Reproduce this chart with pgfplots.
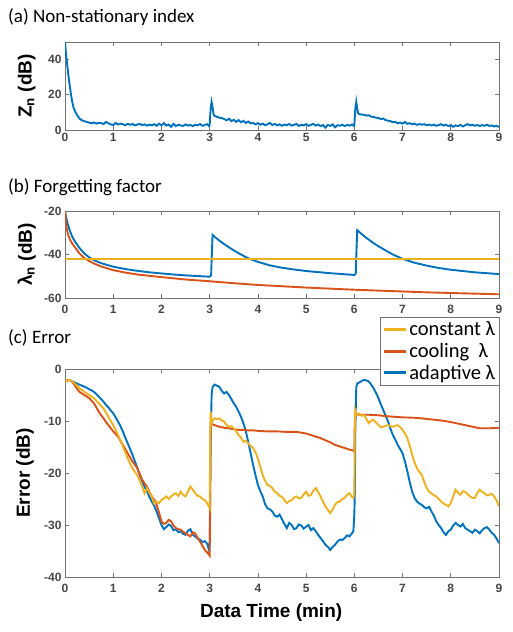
\documentclass[border=0pt]{standalone}
\usepackage{pgfplots}
\pgfplotsset{compat=1.18}
\usepackage{fontspec}
\setmainfont{Liberation Sans}
\newfontfamily\calibri{Carlito}
\definecolor{mblue}{RGB}{0,114,189}
\definecolor{morange}{RGB}{217,83,25}
\definecolor{myellow}{RGB}{237,177,32}
\pgfplotsset{
  panel/.style={
    scale only axis, anchor=south west, width=434pt,
    xmin=0, xmax=9, xtick={0,1,2,3,4,5,6,7,8,9},
    axis line style={black!55, line width=0.7pt},
    tick style={black!55, line width=0.7pt},
    major tick length=4pt, tick align=inside,
    tick label style={font=\bfseries\fontsize{12}{14}\selectfont, text=black!72},
    /pgf/number format/assume math mode=true,
    label style={font=\bfseries\fontsize{19}{22}\selectfont, text=black},
    every axis plot/.append style={line width=1.9pt, no marks},
    ylabel style={at={(axis description cs:-0.088,0.5)}, anchor=center},
  }
}
\begin{document}
\begin{tikzpicture}
\useasboundingbox (0pt,0pt) rectangle (512pt,632pt);
% ---------------- (a)
\begin{axis}[panel, at={(65pt,502pt)}, height=88pt,
  ymin=0, ymax=50, ytick={0,20,40},
  ylabel={Z\textsubscript{n} (dB)}]
\addplot[mblue] coordinates {
(0,50) (0.025,42) (0.05,36) (0.075,30) (0.1,25) (0.125,20) (0.15,16) (0.175,13) (0.2,11) (0.25,8.5) (0.3,6.5) (0.35,5.5) (0.4,5) (0.45,4.6) (0.5,4.2) (0.55,3.8) (0.6,4.3) (0.65,3.6) (0.7,4.1) (0.75,3.9) (0.8,3.4) (0.85,4.6) (0.9,3.8) (0.95,3.2) (1.0,2.8) (1.05,4.0) (1.1,3.1) (1.15,3.6) (1.2,3.3) (1.25,2.7) (1.3,3.5) (1.35,3.0) (1.4,3.4) (1.45,2.6) (1.5,3.1) (1.55,3.5) (1.6,2.8) (1.65,3.2) (1.7,2.5) (1.75,3.0) (1.8,2.7) (1.85,3.3) (1.9,2.4) (1.95,3.6) (2.0,2.6) (2.05,3.9) (2.1,2.5) (2.15,3.1) (2.2,1.8) (2.25,3.5) (2.3,2.2) (2.35,3.0) (2.4,2.6) (2.45,2.3) (2.5,3.2) (2.55,2.5) (2.6,2.9) (2.65,2.2) (2.7,3.0) (2.75,2.6) (2.8,3.4) (2.85,2.4) (2.9,2.9) (2.95,3.3) (2.99,2.2) (3.0,3.0) (3.02,12) (3.04,16) (3.06,13) (3.08,9) (3.1,8) (3.15,7.5) (3.2,7) (3.25,6.8) (3.3,6.2) (3.35,5.5) (3.4,6.4) (3.45,5.0) (3.5,5.8) (3.55,4.6) (3.6,5.6) (3.65,4.4) (3.7,5.2) (3.75,4.0) (3.8,4.8) (3.85,3.8) (3.9,4.0) (3.95,3.2) (4.0,3.9) (4.05,3.0) (4.1,3.6) (4.15,2.7) (4.2,3.3) (4.25,4.0) (4.3,2.8) (4.35,3.5) (4.4,2.6) (4.45,3.2) (4.5,2.4) (4.55,3.1) (4.6,2.7) (4.65,3.4) (4.7,2.5) (4.75,2.9) (4.8,3.5) (4.85,2.3) (4.9,3.0) (4.95,2.6) (5.0,3.3) (5.05,2.4) (5.1,2.9) (5.15,3.5) (5.2,2.5) (5.25,3.1) (5.3,2.2) (5.35,2.8) (5.4,1.3) (5.45,2.9) (5.5,2.3) (5.55,3.2) (5.6,1.5) (5.65,2.7) (5.7,2.4) (5.75,3.0) (5.8,2.2) (5.85,2.9) (5.9,2.5) (5.95,3.1) (5.99,2.4) (6.0,3.0) (6.02,12) (6.04,16) (6.06,12) (6.08,9.5) (6.1,9) (6.15,8.8) (6.2,8.6) (6.25,8.2) (6.3,8.4) (6.35,7.6) (6.4,7.4) (6.45,7.0) (6.5,6.8) (6.55,6.2) (6.6,6.5) (6.65,5.6) (6.7,5.3) (6.75,5.0) (6.8,4.4) (6.85,4.6) (6.9,3.8) (6.95,4.2) (7.0,3.6) (7.05,4.6) (7.1,3.5) (7.15,3.9) (7.2,3.2) (7.25,3.6) (7.3,2.9) (7.35,3.4) (7.4,3.0) (7.45,3.3) (7.5,2.7) (7.55,3.1) (7.6,2.6) (7.65,3.0) (7.7,2.4) (7.75,2.8) (7.8,3.3) (7.85,2.5) (7.9,3.0) (7.95,2.2) (8.0,2.8) (8.05,1.8) (8.1,2.6) (8.15,2.2) (8.2,2.9) (8.25,2.0) (8.3,2.7) (8.35,3.3) (8.4,2.6) (8.45,3.0) (8.5,2.4) (8.55,2.9) (8.6,2.2) (8.65,2.8) (8.7,2.4) (8.75,3.0) (8.8,2.3) (8.85,2.6) (8.9,2.0) (8.95,2.4) (9.0,1.7)
};
\end{axis}
% ---------------- (b)
\begin{axis}[panel, at={(65pt,334pt)}, height=87pt,
  ymin=-60, ymax=-20, ytick={-60,-40,-20},
  xticklabel style={yshift=-4pt},
  ylabel={λ\textsubscript{n} (dB)}]
\addplot[mblue] coordinates {
(0,-20) (0.02,-22.5) (0.05,-25.5) (0.1,-29) (0.15,-31.8) (0.2,-33.8) (0.3,-37) (0.4,-39.5) (0.5,-41.3) (0.6,-42.6) (0.75,-44) (1.0,-45.6) (1.25,-46.7) (1.5,-47.5) (1.75,-48.2) (2.0,-48.7) (2.25,-49.2) (2.5,-49.6) (2.75,-49.9) (3.0,-50.2) (3.03,-49.6) (3.045,-40) (3.06,-31) (3.1,-31.8) (3.2,-33.6) (3.3,-35.2) (3.4,-36.7) (3.5,-38.1) (3.6,-39.4) (3.7,-40.6) (3.8,-41.7) (3.9,-42.6) (4.0,-43.4) (4.25,-45.0) (4.5,-46.1) (4.75,-46.9) (5.0,-47.6) (5.25,-48.1) (5.5,-48.6) (5.75,-49.0) (6.0,-49.4) (6.03,-48.8) (6.045,-38) (6.06,-28.8) (6.1,-29.6) (6.2,-31.5) (6.3,-33.2) (6.4,-34.8) (6.5,-36.2) (6.6,-37.5) (6.7,-38.8) (6.8,-40) (6.9,-41) (7.0,-42) (7.25,-43.8) (7.5,-45.1) (7.75,-46.2) (8.0,-47.0) (8.25,-47.6) (8.5,-48.2) (8.75,-48.6) (9.0,-49)
};
\addplot[morange] coordinates {
(0,-20) (0.01,-23) (0.02,-25.5) (0.04,-28.5) (0.06,-30.5) (0.1,-33) (0.15,-35) (0.2,-36.5) (0.3,-39.5) (0.4,-41.6) (0.5,-43) (0.6,-44.1) (0.75,-45.5) (1.0,-47.2) (1.25,-48.3) (1.5,-49.2) (1.75,-49.8) (2.0,-50.4) (2.5,-51.5) (3.0,-52.3) (3.5,-53.2) (4.0,-54) (4.5,-54.6) (5.0,-55.2) (5.5,-55.7) (6.0,-56.2) (6.5,-56.6) (7.0,-57) (7.5,-57.4) (8.0,-57.7) (8.5,-58) (9.0,-58.3)
};
\addplot[myellow] coordinates {(0,-42) (9,-42)};
\end{axis}
% ---------------- (c)
\begin{axis}[panel, at={(65pt,55pt)}, height=208pt,
  ymin=-40, ymax=0, ytick={-40,-30,-20,-10,0},
  xticklabel style={yshift=-4pt},
  ylabel={Error (dB)},
  ylabel style={at={(axis description cs:-0.092,0.5)}},
  xlabel={Data Time (min)},
  xlabel style={at={(axis description cs:0.475,0)}, anchor=north, yshift=-23pt},
  reverse legend,
  legend cell align=left,
  legend image code/.code={\draw[#1, line width=2.8pt] (0pt,0pt) -- (21.5pt,0pt);},
  legend style={at={(axis description cs:1.002,1.248)}, anchor=north east,
    font=\calibri\fontsize{20.5}{20.5}\selectfont, draw=black!55, fill=white,
    inner sep=2pt, row sep=1pt, nodes={inner sep=2.4pt}}]
\addplot[mblue] coordinates {
(0,-2.4) (0.05,-2.2) (0.1,-2.1) (0.15,-2.4) (0.2,-2.6) (0.25,-2.8) (0.3,-3.0) (0.35,-3.2) (0.4,-3.4) (0.45,-3.6) (0.5,-3.9) (0.55,-4.1) (0.6,-4.4) (0.65,-4.8) (0.7,-5.3) (0.75,-5.8) (0.8,-6.3) (0.85,-6.9) (0.9,-7.4) (0.95,-8.0) (1.0,-8.5) (1.05,-9.3) (1.1,-10.1) (1.15,-11.0) (1.2,-12.0) (1.25,-13.2) (1.3,-14.3) (1.35,-15.4) (1.4,-16.5) (1.45,-17.8) (1.5,-19.0) (1.55,-20.4) (1.6,-21.6) (1.65,-22.7) (1.7,-23.5) (1.75,-24.6) (1.8,-25.5) (1.85,-26.3) (1.9,-27.4) (1.95,-28.7) (2.0,-30.0) (2.05,-30.8) (2.1,-30.4) (2.15,-29.9) (2.2,-30.2) (2.25,-31.0) (2.3,-30.8) (2.35,-31.4) (2.4,-31.2) (2.45,-31.7) (2.5,-31.9) (2.55,-31.1) (2.6,-30.8) (2.65,-31.9) (2.7,-32.2) (2.75,-32.6) (2.8,-32.8) (2.85,-33.3) (2.9,-33.1) (2.95,-33.6) (2.98,-34.6) (3.0,-34.0) (3.02,-15) (3.04,-5) (3.06,-3.5) (3.1,-3.0) (3.15,-3.2) (3.2,-3.4) (3.25,-4.2) (3.3,-4.7) (3.35,-4.4) (3.4,-5.0) (3.45,-5.8) (3.5,-6.6) (3.55,-7.3) (3.6,-8.2) (3.65,-9.2) (3.7,-10.4) (3.75,-12.0) (3.8,-14.0) (3.85,-16.2) (3.9,-18.4) (3.95,-20.4) (4.0,-22.3) (4.05,-23.5) (4.1,-24.5) (4.15,-26.0) (4.2,-26.8) (4.25,-27.0) (4.3,-27.4) (4.35,-28.2) (4.4,-28.4) (4.45,-28.0) (4.5,-28.9) (4.55,-29.8) (4.6,-30.6) (4.65,-29.6) (4.7,-30.0) (4.75,-30.8) (4.8,-30.6) (4.85,-29.9) (4.9,-30.1) (4.95,-30.7) (5.0,-30.3) (5.05,-30.0) (5.1,-31.0) (5.15,-30.6) (5.2,-31.2) (5.25,-31.9) (5.3,-32.5) (5.35,-33.1) (5.4,-33.8) (5.45,-34.2) (5.5,-34.8) (5.55,-34.2) (5.6,-33.8) (5.65,-33.2) (5.7,-32.8) (5.75,-32.9) (5.8,-32.5) (5.85,-32.0) (5.9,-32.2) (5.95,-31.6) (5.98,-31.2) (6.0,-28) (6.01,-24) (6.02,-12) (6.04,-3.5) (6.06,-2.8) (6.1,-2.6) (6.15,-2.3) (6.2,-2.1) (6.25,-2.2) (6.3,-2.4) (6.35,-3.0) (6.4,-3.7) (6.45,-4.6) (6.5,-5.6) (6.55,-6.8) (6.6,-7.9) (6.65,-9.0) (6.7,-10.1) (6.75,-11.5) (6.8,-12.7) (6.85,-13.6) (6.9,-14.6) (6.95,-15.4) (7.0,-16.2) (7.05,-17.8) (7.1,-19.7) (7.15,-21.8) (7.2,-23.6) (7.25,-24.8) (7.3,-25.5) (7.35,-25.9) (7.4,-26.1) (7.45,-26.6) (7.5,-26.8) (7.55,-26.5) (7.6,-27.4) (7.65,-28.2) (7.7,-29.3) (7.75,-30.0) (7.8,-30.6) (7.85,-31.4) (7.9,-31.9) (7.95,-31.2) (8.0,-30.9) (8.05,-30.1) (8.1,-29.6) (8.15,-30.0) (8.2,-30.3) (8.25,-29.8) (8.3,-30.6) (8.35,-30.9) (8.4,-31.2) (8.45,-31.5) (8.5,-30.9) (8.55,-31.2) (8.6,-31.6) (8.65,-31.0) (8.7,-30.6) (8.75,-30.4) (8.8,-30.9) (8.85,-31.5) (8.9,-31.9) (8.95,-32.6) (9.0,-33.5)
};
\addlegendentry{adaptive λ}
\addplot[morange] coordinates {
(0,-2.4) (0.05,-2.2) (0.1,-2.1) (0.15,-2.5) (0.2,-3.1) (0.25,-3.8) (0.3,-4.4) (0.35,-4.7) (0.4,-5.0) (0.45,-5.3) (0.5,-5.6) (0.55,-6.1) (0.6,-6.6) (0.65,-7.4) (0.7,-8.2) (0.75,-8.9) (0.8,-9.5) (0.85,-10.2) (0.9,-10.8) (0.95,-11.4) (1.0,-12.0) (1.05,-12.5) (1.1,-13.0) (1.15,-13.8) (1.2,-14.6) (1.25,-15.4) (1.3,-16.2) (1.35,-17.0) (1.4,-17.8) (1.45,-18.4) (1.5,-19.1) (1.55,-20.2) (1.6,-21.3) (1.65,-22.0) (1.7,-22.6) (1.75,-23.6) (1.8,-24.5) (1.85,-25.2) (1.9,-26.1) (1.95,-27.6) (2.0,-29.3) (2.05,-29.8) (2.1,-29.6) (2.15,-29.0) (2.2,-29.3) (2.25,-30.1) (2.3,-30.6) (2.35,-30.8) (2.4,-30.9) (2.45,-31.3) (2.5,-31.6) (2.55,-31.9) (2.6,-32.2) (2.65,-31.4) (2.7,-31.6) (2.75,-32.5) (2.8,-33.2) (2.85,-34.0) (2.9,-34.8) (2.95,-35.3) (3.0,-35.9) (3.01,-27) (3.02,-10.5) (3.1,-10.8) (3.2,-11.1) (3.3,-11.3) (3.4,-11.4) (3.5,-11.6) (3.6,-11.7) (3.7,-11.7) (3.8,-11.8) (3.9,-11.8) (4.0,-11.9) (4.2,-12.0) (4.4,-12.0) (4.6,-12.1) (4.8,-12.1) (5.0,-12.4) (5.1,-12.7) (5.2,-13.0) (5.3,-13.3) (5.4,-13.7) (5.5,-14.1) (5.6,-14.6) (5.7,-14.9) (5.8,-15.2) (5.9,-15.5) (5.98,-15.7) (6.0,-15.8) (6.01,-10) (6.02,-8.7) (6.1,-8.8) (6.3,-8.8) (6.5,-8.9) (6.7,-9.1) (7.0,-9.3) (7.3,-9.4) (7.5,-9.6) (7.8,-9.9) (8.0,-10.2) (8.2,-10.6) (8.4,-11.0) (8.5,-11.2) (8.6,-11.4) (8.8,-11.4) (9.0,-11.3)
};
\addlegendentry{cooling\ \ λ}
\addplot[myellow] coordinates {
(0,-2.4) (0.05,-2.2) (0.1,-2.1) (0.15,-2.4) (0.2,-2.8) (0.25,-3.2) (0.3,-3.7) (0.35,-4.0) (0.4,-4.4) (0.45,-4.7) (0.5,-5.0) (0.55,-5.3) (0.6,-5.6) (0.65,-6.1) (0.7,-6.6) (0.75,-7.1) (0.8,-7.6) (0.85,-8.4) (0.9,-9.2) (0.95,-10.0) (1.0,-10.8) (1.05,-11.7) (1.1,-12.7) (1.15,-13.8) (1.2,-14.9) (1.25,-16.0) (1.3,-17.2) (1.35,-18.2) (1.4,-19.1) (1.45,-19.8) (1.5,-20.4) (1.55,-21.5) (1.6,-22.6) (1.65,-23.9) (1.7,-22.9) (1.75,-23.8) (1.8,-24.5) (1.85,-25.9) (1.9,-25.5) (1.95,-25.8) (2.0,-25.2) (2.05,-24.9) (2.1,-24.5) (2.15,-25.0) (2.2,-24.5) (2.25,-24.1) (2.3,-23.9) (2.35,-24.4) (2.4,-23.6) (2.45,-24.2) (2.5,-24.5) (2.55,-23.5) (2.6,-22.6) (2.65,-23.2) (2.7,-23.9) (2.75,-24.4) (2.8,-24.5) (2.85,-25.0) (2.9,-25.2) (2.95,-25.8) (3.0,-26.8) (3.01,-15) (3.02,-8.2) (3.04,-10.5) (3.07,-9.8) (3.1,-9.5) (3.15,-9.6) (3.2,-9.5) (3.25,-9.9) (3.3,-10.1) (3.35,-10.8) (3.4,-11.1) (3.45,-11.0) (3.5,-11.4) (3.55,-12.0) (3.6,-12.7) (3.65,-13.2) (3.7,-14.0) (3.75,-13.8) (3.8,-14.3) (3.85,-14.8) (3.9,-15.2) (3.95,-16.0) (4.0,-17.2) (4.05,-18.8) (4.1,-20.4) (4.15,-21.5) (4.2,-22.3) (4.25,-22.5) (4.3,-22.9) (4.35,-23.6) (4.4,-23.9) (4.45,-24.4) (4.5,-24.6) (4.55,-25.2) (4.6,-25.8) (4.65,-25.4) (4.7,-25.2) (4.75,-24.7) (4.8,-24.5) (4.85,-24.9) (4.9,-24.8) (4.95,-24.1) (5.0,-23.6) (5.05,-24.4) (5.1,-24.2) (5.15,-23.4) (5.2,-22.9) (5.25,-23.7) (5.3,-24.5) (5.35,-25.5) (5.4,-26.4) (5.45,-27.1) (5.5,-27.7) (5.55,-27.0) (5.6,-26.1) (5.65,-25.6) (5.7,-25.5) (5.75,-25.0) (5.8,-24.8) (5.85,-24.2) (5.9,-23.9) (5.95,-24.6) (5.98,-24.8) (6.0,-24.0) (6.01,-12) (6.02,-7.9) (6.05,-8.8) (6.1,-8.6) (6.15,-9.0) (6.2,-8.8) (6.25,-9.6) (6.3,-10.4) (6.35,-9.9) (6.4,-9.8) (6.45,-10.3) (6.5,-10.8) (6.55,-11.2) (6.6,-11.1) (6.65,-10.9) (6.7,-10.8) (6.75,-11.0) (6.8,-11.1) (6.85,-10.9) (6.9,-10.8) (6.95,-11.2) (7.0,-11.7) (7.05,-12.4) (7.1,-13.3) (7.15,-14.8) (7.2,-16.5) (7.25,-18.0) (7.3,-19.1) (7.35,-19.8) (7.4,-20.4) (7.45,-21.7) (7.5,-22.9) (7.55,-23.6) (7.6,-23.9) (7.65,-24.3) (7.7,-24.5) (7.75,-25.0) (7.8,-25.5) (7.85,-25.9) (7.9,-26.1) (7.95,-26.4) (8.0,-25.8) (8.05,-24.5) (8.1,-23.2) (8.15,-23.8) (8.2,-24.2) (8.25,-23.5) (8.3,-23.6) (8.35,-24.1) (8.4,-24.5) (8.45,-24.8) (8.5,-24.8) (8.55,-23.8) (8.6,-23.2) (8.65,-23.6) (8.7,-23.9) (8.75,-24.3) (8.8,-24.2) (8.85,-24.0) (8.9,-24.5) (8.95,-25.3) (9.0,-26.4)
};
\addlegendentry{constant λ}
\end{axis}
\node[anchor=base west, font=\calibri\fontsize{19}{22}\selectfont, inner sep=0pt] at (8pt,609.5pt) {(a) Non-stationary index};
\node[anchor=base west, font=\calibri\fontsize{19}{22}\selectfont, inner sep=0pt] at (8pt,439.7pt) {(b) Forgetting factor};
\node[anchor=base west, font=\calibri\fontsize{19}{22}\selectfont, inner sep=0pt] at (8pt,288.7pt) {(c) Error};
\end{tikzpicture}
\end{document}
